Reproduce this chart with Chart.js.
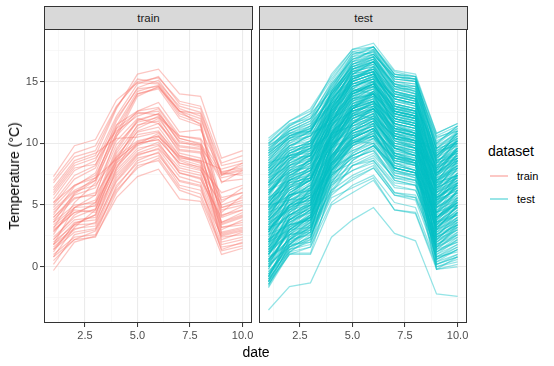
<!DOCTYPE html>
<html>
<head>
<meta charset="utf-8">
<script src="https://cdn.jsdelivr.net/npm/chart.js@4.4.1/dist/chart.umd.min.js"></script>
<style>
  body { margin: 0; background: #fff; font-family: "Liberation Sans", Arial, sans-serif; }
  #wrap { position: relative; width: 554px; height: 366px; overflow: hidden; background: #fff; }
  canvas { position: absolute; }
  .strip { position: absolute; top: 6px; height: 24px; background: #D9D9D9; border: 1px solid #333;
    box-sizing: border-box; font-size: 11.5px; color: #1A1A1A; text-align: center; line-height: 22px; }
  .lbl { position: absolute; white-space: nowrap; color: #000; }
  .key { position: absolute; left: 490px; width: 18px; height: 1.5px; }
</style>
</head>
<body>
<div id="wrap">
  <div class="strip" style="left:44px;width:209px">train</div>
  <div class="strip" style="left:259px;width:209px">test</div>
  <canvas id="cTrain" width="256" height="342" style="left:0;top:24px"></canvas>
  <canvas id="cTest" width="220" height="342" style="left:251px;top:24px"></canvas>
  <div class="lbl" style="left:14px;top:176px;font-size:14px;transform:translate(-50%,-50%) rotate(-90deg)">Temperature (°C)</div>
  <div class="lbl" style="left:256px;top:352px;font-size:14px;transform:translate(-50%,-50%)">date</div>
  <div class="lbl" style="left:488px;top:151px;font-size:14px;transform:translateY(-50%)">dataset</div>
  <div class="key" style="top:175px;background:rgba(248,118,109,0.4)"></div>
  <div class="lbl" style="left:517px;top:176px;font-size:11px;transform:translateY(-50%)">train</div>
  <div class="key" style="top:198px;background:rgba(0,191,196,0.4)"></div>
  <div class="lbl" style="left:517px;top:199px;font-size:11px;transform:translateY(-50%)">test</div>
</div>
<script>
// x positions (date index) and tick setup
const dates = [1, 2, 3, 4, 5, 6, 7, 8, 9, 10];
const xTicks = [2.5, 5, 7.5, 10];
const xMinor = [1.25, 3.75, 6.25, 8.75];
const yTicks = [0, 5, 10, 15];
const yMinor = [-2.5, 2.5, 7.5, 12.5, 17.5];

// one row per station, values at dates 1..10
const trainSeries = [
  [6.2, 8.4, 9.0, 12.8, 15.6, 16.0, 14.0, 13.8, 8.8, 9.4],
  [5.5, 7.8, 8.6, 12.2, 14.8, 15.4, 13.2, 12.8, 7.6, 8.2],
  [4.2, 6.5, 7.6, 11.8, 14.5, 15.1, 12.8, 12.2, 6.8, 7.8],
  [7.3, 9.8, 10.3, 13.5, 14.9, 14.8, 12.6, 12.0, 7.5, 7.9],
  [3.1, 5.9, 7.0, 11.4, 14.2, 14.7, 12.4, 11.8, 5.2, 6.4],
  [2.6, 5.2, 6.8, 10.8, 14.0, 14.5, 12.6, 11.5, 4.4, 5.8],
  [6.8, 8.9, 9.4, 12.9, 15.2, 14.9, 13.0, 12.5, 8.2, 8.6],
  [1.8, 4.8, 5.8, 10.5, 13.8, 14.6, 12.2, 11.6, 3.5, 4.1],
  [7.0, 9.2, 9.8, 13.0, 15.0, 15.3, 13.4, 13.0, 8.4, 9.0],
  [5.2, 7.4, 8.2, 12.0, 14.4, 14.6, 12.6, 12.4, 7.4, 8.4],
  [3.6, 6.0, 7.2, 11.2, 14.0, 14.4, 12.0, 11.4, 4.8, 5.4],
  [5.0, 7.1, 8.0, 11.5, 12.6, 13.3, 10.9, 11.1, 7.7, 8.0],
  [4.6, 6.2, 7.0, 10.6, 12.4, 12.6, 10.0, 9.9, 6.9, 7.1],
  [3.4, 4.8, 5.4, 9.6, 11.9, 12.4, 10.2, 9.8, 4.8, 5.2],
  [2.9, 4.4, 5.0, 9.2, 11.4, 12.2, 9.5, 9.3, 3.6, 4.4],
  [6.0, 8.2, 8.8, 11.0, 12.2, 12.8, 10.4, 10.0, 7.4, 7.8],
  [1.2, 3.5, 4.2, 8.8, 11.2, 12.0, 9.8, 9.6, 2.7, 3.1],
  [2.4, 4.0, 4.7, 8.6, 11.5, 11.8, 9.2, 8.8, 2.2, 2.8],
  [4.0, 5.8, 6.4, 10.2, 12.0, 11.6, 9.7, 9.5, 5.6, 6.0],
  [0.8, 3.2, 4.6, 9.0, 10.9, 11.3, 9.0, 8.5, 2.0, 2.4],
  [3.8, 5.5, 6.0, 9.9, 11.7, 12.1, 10.6, 10.3, 4.1, 4.9],
  [5.8, 8.0, 8.3, 11.2, 12.5, 12.3, 10.1, 9.7, 7.2, 7.6],
  [1.6, 3.0, 3.6, 8.0, 10.7, 11.0, 8.7, 8.2, 3.0, 3.8],
  [4.8, 6.6, 7.4, 10.8, 12.6, 12.9, 10.6, 10.4, 7.6, 7.4],
  [2.2, 4.2, 5.2, 9.4, 11.8, 12.4, 10.4, 9.9, 4.2, 4.6],
  [1.4, 3.4, 4.2, 8.4, 11.0, 11.6, 9.4, 9.2, 3.2, 3.4],
  [2.8, 4.8, 4.9, 8.4, 9.9, 10.8, 8.6, 8.0, 3.4, 4.0],
  [1.0, 2.4, 2.6, 6.6, 8.4, 9.0, 7.0, 6.6, 1.8, 2.2],
  [-0.3, 2.0, 2.5, 5.6, 7.3, 7.9, 5.5, 5.3, 1.0, 1.5],
  [3.6, 5.0, 5.2, 8.2, 9.8, 10.5, 8.9, 8.4, 4.6, 5.0],
  [2.0, 3.4, 3.5, 7.0, 9.0, 9.6, 7.8, 7.4, 3.2, 3.6],
  [1.4, 2.8, 3.1, 6.9, 8.8, 9.2, 6.6, 6.2, 2.5, 2.9],
  [4.4, 6.1, 6.6, 8.9, 10.2, 10.6, 8.2, 7.8, 5.0, 5.6],
  [0.5, 2.2, 2.9, 6.2, 8.0, 8.8, 6.4, 5.9, 1.6, 1.9],
  [3.2, 4.6, 4.4, 7.6, 9.4, 10.1, 7.6, 7.1, 4.0, 4.6],
  [2.2, 3.8, 4.0, 7.8, 9.6, 9.9, 8.0, 7.6, 2.8, 3.2],
  [5.2, 6.6, 7.2, 8.7, 10.0, 10.3, 8.4, 8.1, 6.0, 6.6],
  [1.8, 3.1, 3.3, 7.2, 9.1, 9.5, 7.3, 6.8, 2.4, 2.6],
  [6.4, 8.6, 9.2, 10.4, 10.5, 10.9, 9.0, 8.6, 7.9, 8.4],
  [0.2, 2.6, 3.0, 6.4, 8.6, 9.3, 6.9, 6.5, 1.3, 1.7],
  [3.0, 4.4, 4.6, 8.0, 10.0, 10.3, 8.4, 7.9, 3.6, 4.2],
  [0.8, 2.2, 2.4, 6.0, 8.2, 8.6, 6.2, 5.6, 1.4, 2.0],
  [4.0, 5.6, 5.8, 8.6, 10.1, 10.6, 8.8, 8.6, 5.4, 6.0],
  [1.8, 3.6, 3.8, 7.4, 9.2, 9.8, 7.6, 7.2, 2.6, 3.0]
];

const testSeries = [
  [-3.5, -1.6, -1.3, 2.4, 3.8, 4.8, 2.7, 2.1, -2.2, -2.4],
  [10.2, 11.8, 12.8, 15.4, 17.6, 18.1, 15.9, 15.6, 10.8, 11.6],
  [9.6, 11.2, 12.0, 15.0, 17.4, 17.2, 15.4, 15.2, 10.2, 11.0],
  [8.8, 10.8, 11.6, 14.6, 16.8, 17.5, 15.0, 14.8, 9.6, 10.6],
  [9.9, 11.5, 12.4, 14.2, 16.2, 16.8, 14.8, 14.2, 9.9, 11.2],
  [8.2, 10.2, 10.9, 14.0, 16.4, 17.0, 14.6, 14.0, 9.2, 10.2],
  [7.6, 9.8, 10.4, 13.8, 16.0, 16.6, 14.2, 13.8, 8.8, 9.8],
  [9.2, 10.6, 11.0, 13.4, 15.8, 16.2, 14.4, 14.4, 9.4, 10.4],
  [7.0, 9.2, 10.0, 13.2, 15.6, 16.4, 13.8, 13.4, 8.4, 9.2],
  [6.4, 8.6, 9.6, 13.0, 15.4, 16.0, 13.4, 13.0, 7.8, 8.6],
  [8.0, 9.4, 9.8, 12.8, 15.0, 15.6, 13.6, 13.2, 8.6, 9.6],
  [5.8, 8.0, 9.0, 12.6, 15.2, 15.8, 13.0, 12.6, 7.2, 8.0],
  [6.9, 8.4, 9.2, 12.4, 14.8, 15.4, 13.2, 12.8, 8.0, 9.0],
  [5.2, 7.4, 8.4, 12.2, 14.6, 15.2, 12.8, 12.4, 6.6, 7.4],
  [7.4, 8.8, 9.4, 12.0, 14.4, 15.0, 12.4, 12.0, 7.4, 8.4],
  [4.6, 7.0, 8.0, 11.8, 14.2, 15.0, 12.6, 12.2, 6.0, 6.8],
  [6.0, 7.8, 8.6, 11.6, 14.0, 14.8, 12.2, 11.8, 7.0, 7.8],
  [4.0, 6.6, 7.4, 11.4, 13.8, 14.6, 12.0, 11.6, 5.4, 6.2],
  [5.5, 7.2, 8.0, 11.2, 13.6, 14.4, 11.8, 11.4, 6.4, 7.2],
  [3.4, 6.0, 7.0, 11.0, 13.4, 14.2, 11.6, 11.2, 4.8, 5.6],
  [4.9, 6.8, 7.6, 10.8, 13.2, 14.0, 11.4, 11.0, 5.8, 6.6],
  [2.8, 5.4, 6.4, 10.6, 13.0, 13.8, 11.2, 11.0, 4.2, 5.0],
  [4.3, 6.2, 7.2, 10.4, 12.8, 13.6, 11.0, 10.6, 5.2, 6.0],
  [2.2, 4.8, 5.8, 10.2, 12.6, 13.4, 10.8, 10.6, 3.6, 4.4],
  [3.8, 5.6, 6.6, 10.0, 12.4, 13.2, 10.6, 10.2, 4.6, 5.4],
  [1.6, 4.2, 5.2, 9.8, 12.2, 13.0, 10.4, 10.2, 3.0, 3.8],
  [3.0, 5.0, 6.0, 9.6, 12.0, 12.8, 10.2, 9.8, 4.0, 4.8],
  [1.0, 3.6, 4.6, 9.4, 11.8, 12.6, 10.0, 9.8, 2.4, 3.2],
  [2.4, 4.4, 5.4, 9.2, 11.6, 12.4, 9.8, 9.4, 3.4, 4.2],
  [0.4, 3.0, 4.0, 9.0, 11.4, 12.2, 9.6, 9.4, 1.8, 2.6],
  [1.8, 3.8, 4.8, 8.8, 11.2, 12.0, 9.4, 9.0, 2.8, 3.6],
  [-0.2, 2.4, 3.4, 8.6, 11.0, 11.8, 9.2, 9.0, 1.2, 2.0],
  [1.2, 3.2, 4.2, 8.4, 10.8, 11.6, 9.0, 8.6, 2.2, 3.0],
  [-0.8, 1.8, 2.8, 8.2, 10.6, 11.4, 8.8, 8.6, 0.6, 1.4],
  [0.6, 2.6, 3.6, 8.0, 10.4, 11.2, 8.6, 8.2, 1.6, 2.4],
  [-1.4, 1.2, 2.2, 7.8, 10.2, 11.0, 8.4, 8.2, 0.2, 0.8],
  [0.0, 2.0, 3.0, 7.6, 10.0, 10.8, 8.2, 7.8, 1.0, 1.8],
  [-1.7, 1.1, 1.1, 6.4, 8.6, 9.6, 7.0, 6.6, -0.2, 0.0],
  [-1.0, 1.4, 2.0, 7.0, 9.4, 10.2, 7.6, 7.2, 0.4, 1.0],
  [-0.4, 1.6, 2.4, 7.2, 9.6, 10.4, 7.8, 7.4, 0.8, 1.2],
  [8.6, 10.0, 10.6, 12.0, 13.0, 13.6, 11.8, 11.4, 8.2, 9.6],
  [7.8, 9.0, 9.2, 11.0, 12.2, 12.8, 11.0, 10.6, 7.6, 8.8],
  [9.4, 10.4, 10.8, 11.6, 12.6, 13.0, 11.2, 10.8, 8.9, 10.8],
  [6.6, 7.6, 8.2, 10.0, 11.0, 11.6, 9.6, 9.2, 6.8, 8.2],
  [7.2, 8.2, 8.8, 10.4, 11.6, 12.0, 10.2, 9.8, 7.4, 9.0],
  [5.6, 6.4, 7.0, 9.0, 10.0, 10.6, 8.6, 8.4, 6.0, 7.4],
  [8.4, 9.0, 9.6, 10.8, 11.4, 11.8, 9.8, 9.6, 8.0, 10.0],
  [6.2, 7.0, 7.8, 9.6, 10.6, 11.2, 9.2, 8.8, 6.6, 7.8],
  [4.8, 5.8, 6.2, 8.4, 9.4, 10.0, 8.0, 7.6, 5.6, 6.8],
  [5.0, 5.4, 5.6, 7.6, 8.4, 9.2, 7.2, 7.0, 4.8, 6.0],
  [3.6, 4.6, 5.0, 7.4, 8.8, 9.4, 7.4, 7.0, 4.4, 5.2],
  [4.4, 5.2, 5.8, 8.0, 9.0, 9.8, 7.6, 7.4, 5.0, 6.4],
  [2.6, 3.4, 3.8, 6.8, 7.8, 8.6, 6.4, 6.2, 2.6, 3.8],
  [1.4, 2.6, 2.8, 6.0, 7.0, 8.0, 5.8, 5.6, 1.4, 2.0],
  [0.8, 1.8, 2.0, 5.6, 6.4, 7.2, 4.6, 4.4, 0.0, 0.6],
  [-1.2, 1.0, 1.0, 5.0, 6.0, 7.0, 4.6, 4.3, -0.2, 0.2],
  [2.0, 3.0, 3.2, 6.2, 7.4, 8.2, 6.0, 5.8, 2.0, 3.0],
  [3.2, 3.8, 4.4, 7.0, 8.2, 8.8, 6.8, 6.6, 3.2, 4.6],
  [2.0, 4.6, 6.2, 11.6, 15.0, 16.2, 13.6, 13.2, 5.6, 6.4],
  [3.2, 5.8, 7.6, 12.8, 16.2, 17.0, 14.6, 14.2, 6.8, 7.4],
  [1.0, 3.8, 5.2, 10.8, 14.4, 15.6, 13.2, 12.8, 4.4, 5.0],
  [4.4, 7.0, 8.8, 13.6, 16.6, 17.6, 15.2, 15.0, 7.6, 8.4],
  [0.2, 3.0, 4.4, 10.0, 13.6, 14.8, 12.6, 12.2, 3.6, 4.2],
  [5.6, 8.2, 9.4, 14.2, 17.0, 17.8, 15.4, 15.2, 8.6, 9.4],
  [-0.6, 2.2, 3.6, 9.4, 12.8, 14.2, 12.0, 11.6, 2.6, 3.4],
  [2.6, 5.0, 6.8, 12.0, 15.6, 16.6, 14.0, 13.6, 6.2, 7.0],
  [6.8, 8.6, 9.6, 13.4, 15.8, 16.2, 13.0, 12.4, 4.0, 5.4],
  [5.4, 7.6, 8.6, 12.6, 15.0, 15.6, 12.2, 11.6, 2.4, 3.4],
  [4.2, 6.4, 7.6, 11.8, 14.2, 14.8, 11.4, 10.8, 1.2, 2.2],
  [3.0, 5.2, 6.4, 11.0, 13.4, 14.0, 10.6, 10.0, 0.6, 1.4],
  [7.4, 9.4, 10.2, 13.0, 15.2, 15.8, 12.6, 12.2, 3.0, 4.0],
  [1.6, 3.2, 4.0, 8.8, 11.6, 12.4, 9.2, 8.6, 5.4, 7.0],
  [0.6, 2.2, 3.2, 8.0, 10.6, 11.6, 8.4, 8.0, 4.4, 6.2],
  [2.8, 4.2, 5.0, 9.6, 12.4, 13.2, 10.4, 9.6, 6.4, 8.2],
  [-0.4, 1.4, 2.6, 7.4, 10.0, 11.0, 8.0, 7.6, 3.4, 5.4],
  [3.8, 5.4, 6.0, 10.4, 13.0, 14.0, 11.6, 10.8, 7.4, 9.6],
  [8.0, 9.6, 10.0, 12.2, 14.6, 15.2, 13.8, 13.6, 9.0, 10.6],
  [9.0, 10.4, 11.2, 13.8, 16.4, 16.8, 14.6, 14.6, 10.0, 11.4],
  [10.0, 11.4, 12.2, 14.8, 16.8, 17.2, 15.2, 15.0, 10.5, 11.0],
  [6.2, 8.0, 8.4, 11.2, 12.8, 13.4, 11.6, 11.2, 6.2, 7.6],
  [-1.6, 1.4, 1.8, 6.8, 9.2, 10.0, 7.4, 7.0, 0.0, 0.4],
  [-1.2, 1.6, 2.2, 7.4, 9.8, 10.6, 8.0, 7.6, 0.6, 1.6],
  [-0.8, 2.0, 2.8, 8.0, 10.4, 11.2, 8.6, 8.2, 1.2, 2.4],
  [1.4, 3.4, 4.0, 8.2, 10.2, 10.6, 8.2, 7.8, 1.8, 2.8],
  [9.8, 10.8, 11.4, 13.2, 15.0, 15.6, 13.6, 13.0, 9.6, 10.0],
  [4.8, 6.8, 7.2, 9.8, 11.4, 12.2, 10.4, 10.0, 5.2, 6.4],
  [3.4, 5.0, 5.4, 8.4, 10.0, 10.6, 8.8, 8.4, 3.8, 5.2],
  [2.2, 3.6, 4.6, 7.8, 9.0, 9.8, 7.8, 7.4, 2.6, 4.0],
  [9.0, 11.0, 11.8, 14.4, 16.6, 17.0, 14.8, 14.4, 8.4, 9.0],
  [8.4, 10.4, 11.4, 14.8, 17.2, 17.6, 15.6, 15.4, 9.8, 10.8],
  [7.2, 9.6, 10.8, 14.2, 16.8, 17.4, 15.0, 14.6, 9.0, 10.0],
  [6.6, 9.0, 10.2, 13.6, 16.2, 16.8, 14.4, 14.0, 8.2, 9.4],
  [5.0, 7.8, 9.2, 13.2, 16.0, 16.6, 14.0, 13.6, 7.0, 8.8],
  [3.6, 6.4, 8.2, 12.6, 15.4, 16.0, 13.6, 13.2, 5.8, 7.2],
  [2.4, 5.6, 7.2, 12.2, 15.0, 15.6, 13.2, 12.8, 5.0, 6.6],
  [1.2, 4.4, 6.0, 11.4, 14.6, 15.2, 12.8, 12.4, 4.0, 5.6],
  [0.0, 3.4, 5.0, 10.6, 14.0, 14.8, 12.4, 12.0, 3.2, 4.6],
  [-1.0, 2.6, 4.2, 10.0, 13.2, 14.2, 11.8, 11.4, 2.2, 3.6],
  [-1.5, 1.8, 3.4, 9.2, 12.4, 13.4, 11.0, 10.6, 1.4, 2.6],
  [10.0, 11.6, 12.0, 14.0, 15.8, 16.4, 14.2, 13.8, 9.2, 10.0],
  [9.4, 11.0, 11.6, 13.6, 15.2, 15.8, 13.8, 13.4, 8.8, 10.4],
  [8.6, 10.6, 11.2, 13.0, 14.6, 15.2, 13.4, 13.2, 8.4, 10.2],
  [7.8, 9.8, 10.6, 12.6, 14.2, 14.8, 12.8, 12.6, 7.8, 9.6],
  [6.8, 9.2, 10.0, 12.4, 13.8, 14.4, 12.4, 12.0, 7.2, 9.2],
  [5.8, 8.4, 9.2, 11.8, 13.4, 14.0, 12.0, 11.6, 6.6, 8.6],
  [4.8, 7.6, 8.6, 11.4, 13.0, 13.6, 11.6, 11.2, 6.0, 8.0],
  [3.8, 6.8, 7.8, 10.8, 12.6, 13.2, 11.2, 10.8, 5.4, 7.4],
  [2.8, 6.0, 7.0, 10.2, 12.0, 12.8, 10.8, 10.4, 4.8, 6.8],
  [1.8, 5.0, 6.2, 9.6, 11.6, 12.4, 10.4, 10.0, 4.2, 6.2],
  [0.8, 4.0, 5.4, 9.0, 11.0, 11.8, 9.8, 9.4, 3.6, 5.6],
  [-0.2, 3.2, 4.6, 8.4, 10.4, 11.2, 9.2, 8.8, 3.0, 5.0],
  [-1.2, 2.2, 3.8, 7.8, 9.8, 10.6, 8.6, 8.2, 2.4, 4.4],
  [9.6, 10.8, 11.0, 13.8, 16.0, 16.4, 13.2, 12.6, 6.4, 7.2],
  [8.4, 9.8, 10.2, 13.2, 15.4, 15.8, 12.6, 12.0, 5.6, 6.6],
  [7.6, 9.0, 9.6, 12.6, 14.8, 15.2, 12.0, 11.4, 4.8, 6.0],
  [6.4, 8.0, 8.8, 12.0, 14.2, 14.6, 11.4, 10.8, 4.0, 5.2],
  [5.2, 7.0, 7.8, 11.4, 13.6, 14.0, 10.8, 10.2, 3.2, 4.4],
  [4.0, 6.0, 7.0, 10.8, 13.0, 13.4, 10.2, 9.6, 2.6, 3.8],
  [2.8, 5.0, 6.0, 10.2, 12.4, 12.8, 9.6, 9.0, 1.8, 3.0],
  [1.6, 3.8, 5.0, 9.6, 11.8, 12.2, 9.0, 8.4, 1.0, 2.2],
  [0.4, 2.8, 4.0, 9.0, 11.2, 11.6, 8.4, 7.8, 0.4, 1.4],
  [-0.6, 1.8, 3.0, 8.4, 10.6, 11.0, 7.8, 7.2, -0.2, 0.8],
  [7.0, 8.8, 9.0, 11.4, 13.4, 14.6, 13.0, 12.6, 8.6, 11.0],
  [6.0, 7.8, 8.0, 10.8, 12.8, 14.0, 12.4, 12.0, 8.0, 10.4],
  [5.0, 6.8, 7.2, 10.2, 12.2, 13.4, 11.8, 11.4, 7.4, 9.8],
  [4.0, 5.8, 6.4, 9.6, 11.6, 12.8, 11.2, 10.8, 6.8, 9.2],
  [3.0, 4.8, 5.6, 9.0, 11.0, 12.2, 10.6, 10.2, 6.2, 8.6],
  [2.0, 3.8, 4.8, 8.4, 10.4, 11.6, 10.0, 9.6, 5.6, 8.0],
  [1.0, 2.8, 4.0, 7.8, 9.8, 11.0, 9.4, 9.0, 5.0, 7.4],
  [0.0, 1.8, 3.2, 7.2, 9.2, 10.4, 8.8, 8.4, 4.4, 6.8],
  [-1.0, 1.2, 2.4, 6.6, 8.6, 9.8, 8.2, 7.8, 3.8, 6.2],
  [8.2, 9.6, 10.0, 12.8, 15.0, 15.6, 13.2, 12.8, 7.0, 8.0],
  [7.4, 8.6, 9.0, 11.8, 14.0, 14.6, 12.2, 11.8, 6.4, 7.4],
  [6.2, 7.4, 7.8, 10.6, 12.8, 13.4, 11.0, 10.6, 5.6, 6.6],
  [5.4, 6.6, 7.0, 9.8, 11.8, 12.4, 10.0, 9.6, 4.8, 5.8],
  [4.6, 5.8, 6.2, 9.0, 10.8, 11.4, 9.0, 8.6, 4.0, 5.0],
  [3.8, 5.0, 5.4, 8.2, 9.8, 10.4, 8.0, 7.6, 3.2, 4.2],
  [3.0, 4.2, 4.6, 7.4, 8.8, 9.4, 7.0, 6.6, 2.4, 3.4],
  [2.2, 3.4, 3.8, 6.6, 7.8, 8.4, 6.0, 5.6, 1.6, 2.6],
  [0.6, 2.2, 2.6, 5.8, 7.2, 8.0, 5.8, 5.4, 0.8, 1.6],
  [-0.6, 1.2, 1.6, 5.2, 6.6, 7.4, 5.2, 4.8, 0.2, 0.8],
  [9.2, 11.2, 12.0, 14.6, 17.0, 17.4, 15.4, 15.0, 10.4, 11.2],
  [8.0, 10.0, 11.0, 14.0, 16.6, 17.2, 15.2, 15.0, 10.0, 11.4],
  [6.0, 8.6, 10.0, 13.4, 16.4, 17.0, 15.0, 14.8, 9.6, 11.0],
  [4.0, 7.2, 8.8, 12.8, 16.0, 16.8, 14.8, 14.4, 9.0, 10.6],
  [2.0, 5.6, 7.6, 12.2, 15.6, 16.6, 14.4, 14.0, 8.4, 10.2],
  [0.4, 4.0, 6.4, 11.6, 15.2, 16.2, 14.0, 13.6, 7.8, 9.6],
  [9.8, 11.0, 11.8, 14.4, 17.2, 17.8, 15.6, 15.2, 9.4, 9.8],
  [7.8, 9.2, 9.8, 12.6, 14.4, 14.0, 12.0, 11.6, 7.6, 8.6],
  [5.6, 7.0, 7.4, 10.4, 12.4, 12.0, 10.0, 9.6, 5.8, 7.0],
  [3.4, 4.8, 5.2, 8.2, 10.2, 10.0, 8.0, 7.6, 4.0, 5.4],
  [1.2, 2.6, 3.0, 6.2, 8.2, 8.6, 6.6, 6.2, 2.2, 3.8],
  [6.6, 8.2, 8.6, 11.4, 14.2, 15.0, 11.2, 10.4, 3.6, 4.8],
  [5.0, 6.4, 7.2, 10.6, 13.2, 13.8, 10.4, 9.8, 2.0, 3.2],
  [3.2, 4.6, 5.6, 9.8, 12.6, 13.2, 9.8, 9.2, 0.8, 1.8],
  [1.4, 3.0, 4.2, 9.2, 12.0, 12.8, 9.2, 8.6, 0.2, 1.0],
  [8.8, 10.2, 10.6, 13.4, 15.6, 16.0, 14.0, 13.8, 8.6, 9.2],
  [7.6, 9.0, 9.4, 12.4, 14.8, 15.4, 13.4, 13.0, 8.0, 8.8],
  [4.6, 6.2, 7.0, 10.6, 12.6, 13.0, 11.0, 10.6, 6.4, 8.4],
  [2.6, 4.2, 5.0, 8.8, 10.8, 11.4, 9.6, 9.2, 5.2, 7.6],
  [0.2, 1.6, 2.4, 6.8, 9.0, 9.8, 8.0, 7.6, 3.0, 5.0],
  [-1.4, 1.0, 1.6, 6.0, 8.2, 9.0, 7.2, 6.8, 1.6, 3.4],
  [10.4, 11.8, 12.6, 15.2, 17.4, 17.8, 15.6, 15.4, 10.6, 11.4],
  [9.4, 11.4, 12.4, 15.6, 17.6, 17.8, 15.8, 15.4, 10.8, 11.6],
  [6.8, 8.8, 9.8, 13.0, 15.4, 15.8, 13.6, 13.2, 9.2, 10.8],
  [5.4, 7.4, 8.2, 11.6, 14.0, 14.6, 12.6, 12.2, 8.4, 10.0],
  [3.6, 5.8, 6.6, 10.4, 12.8, 13.4, 11.6, 11.2, 7.6, 9.4],
  [1.6, 3.6, 4.4, 8.6, 11.2, 12.0, 10.6, 10.2, 7.0, 8.8],
  [8.2, 9.8, 10.6, 13.6, 15.6, 16.0, 13.8, 13.4, 8.0, 9.4],
  [7.2, 8.8, 9.6, 12.8, 14.8, 15.4, 13.0, 12.6, 7.6, 9.0],
  [6.2, 7.8, 8.6, 12.0, 14.2, 14.8, 12.4, 12.0, 7.0, 8.2],
  [5.2, 7.0, 7.8, 11.4, 13.8, 14.4, 12.0, 11.4, 6.2, 7.6],
  [4.2, 6.2, 7.0, 10.8, 13.2, 13.8, 11.4, 10.8, 5.4, 6.8],
  [3.2, 5.4, 6.2, 10.0, 12.6, 13.2, 10.8, 10.2, 4.6, 6.0],
  [2.2, 4.6, 5.6, 9.4, 12.0, 12.6, 10.2, 9.6, 3.8, 5.2],
  [1.2, 3.8, 4.8, 8.8, 11.4, 12.0, 9.6, 9.0, 3.0, 4.4],
  [0.2, 3.0, 4.0, 8.2, 10.8, 11.4, 9.0, 8.4, 2.2, 3.6],
  [-0.8, 2.2, 3.2, 7.6, 10.2, 10.8, 8.4, 7.8, 1.4, 2.8],
  [9.0, 10.4, 11.0, 13.2, 14.8, 15.0, 12.8, 12.4, 8.2, 8.8],
  [6.8, 8.4, 9.0, 11.8, 13.6, 14.2, 12.2, 11.8, 6.8, 7.4],
  [4.4, 6.4, 7.2, 10.4, 12.2, 12.8, 10.8, 10.4, 5.4, 6.2],
  [2.0, 4.2, 5.2, 9.0, 11.0, 11.8, 9.8, 9.4, 3.6, 4.8],
  [0.0, 2.4, 3.6, 7.8, 10.0, 10.8, 8.8, 8.4, 2.0, 3.4],
  [8.6, 10.6, 11.2, 14.2, 16.2, 16.6, 14.6, 14.2, 9.0, 10.2],
  [5.8, 8.2, 9.0, 12.8, 15.2, 15.8, 13.6, 13.2, 7.6, 8.8],
  [3.4, 5.8, 6.8, 11.2, 14.0, 14.8, 12.6, 12.2, 6.0, 7.2],
  [1.0, 3.4, 4.6, 9.8, 12.8, 13.8, 11.6, 11.2, 4.4, 5.6],
  [-1.2, 1.6, 2.8, 8.4, 11.6, 12.8, 10.6, 10.2, 2.8, 4.0],
  [7.8, 9.4, 10.2, 13.4, 15.8, 16.6, 14.8, 14.6, 9.6, 10.8],
  [5.2, 7.2, 8.0, 11.8, 14.4, 15.4, 13.8, 13.4, 8.8, 10.2],
  [2.8, 5.0, 5.8, 10.2, 13.0, 14.2, 12.6, 12.2, 7.8, 9.4],
  [0.6, 2.8, 3.8, 8.6, 11.6, 13.0, 11.6, 11.0, 6.8, 8.6],
  [9.2, 10.6, 11.4, 14.0, 16.0, 16.6, 14.2, 13.6, 7.2, 8.2],
  [6.0, 7.6, 8.4, 11.8, 14.0, 14.8, 12.4, 11.8, 5.2, 6.4],
  [3.0, 4.8, 5.8, 9.8, 12.2, 13.0, 10.6, 10.0, 3.4, 4.8],
  [0.4, 2.2, 3.4, 7.8, 10.4, 11.2, 8.8, 8.2, 1.6, 3.2],
  [7.4, 9.2, 9.8, 12.2, 13.6, 14.0, 11.8, 11.4, 6.0, 7.0],
  [4.6, 6.6, 7.4, 10.6, 12.0, 12.6, 10.4, 10.0, 4.4, 5.8],
  [1.8, 4.0, 5.0, 8.8, 10.4, 11.2, 9.0, 8.6, 2.8, 4.4],
  [8.0, 10.2, 11.0, 14.0, 16.4, 17.2, 15.4, 15.2, 9.4, 10.4],
  [4.8, 7.4, 8.4, 12.4, 15.2, 16.0, 14.2, 13.8, 7.4, 8.6],
  [1.4, 4.4, 5.6, 10.8, 13.8, 15.0, 13.0, 12.6, 5.6, 6.8],
  [-0.8, 2.6, 3.8, 9.6, 12.8, 14.0, 12.0, 11.6, 4.0, 5.2],
  [6.6, 8.2, 9.0, 12.4, 14.6, 15.0, 12.8, 12.2, 6.6, 8.0],
  [3.8, 5.6, 6.6, 10.6, 12.8, 13.4, 11.2, 10.6, 5.0, 6.6],
  [1.0, 3.0, 4.2, 8.6, 11.0, 11.8, 9.6, 9.0, 3.4, 5.0]
];

const TRAIN_COL = 'rgba(248,118,109,0.42)';
const TEST_COL = 'rgba(0,191,196,0.42)';

// ggplot-ish panel frame drawn on top
const frame = {
  id: 'frame',
  afterDraw(chart) {
    const a = chart.chartArea, ctx = chart.ctx;
    ctx.save();
    ctx.strokeStyle = '#333333';
    ctx.lineWidth = 1;
    ctx.strokeRect(Math.round(a.left) + 0.5, Math.round(a.top) + 0.5,
      Math.round(a.right - a.left) - 1, Math.round(a.bottom - a.top) - 1);
    ctx.restore();
  }
};

function gridOpts(majors) {
  const isMajor = v => majors.includes(v);
  return {
    color: c => isMajor(c.tick.value) ? '#EBEBEB' : '#F4F4F4',
    lineWidth: c => isMajor(c.tick.value) ? 1.1 : 0.6,
    tickColor: c => isMajor(c.tick.value) ? '#333333' : 'rgba(0,0,0,0)',
    tickLength: 4,
    tickWidth: 1
  };
}

function makePanel(id, series, color, showY, padLeft) {
  const datasets = series.map(row => ({
    data: row.map((v, i) => ({ x: dates[i], y: v })),
    borderColor: color,
    borderWidth: 1.25,
    pointRadius: 0,
    fill: false,
    tension: 0
  }));
  const tickFont = { family: '"Liberation Sans", Arial, sans-serif', size: 11 };
  const yGrid = gridOpts(yTicks);
  if (!showY) yGrid.drawTicks = false;
  return new Chart(document.getElementById(id), {
    type: 'line',
    data: { datasets },
    options: {
      responsive: false,
      animation: false,
      devicePixelRatio: 1,
      layout: { padding: { top: 5, right: 4, left: padLeft, bottom: 0 } },
      plugins: { legend: { display: false }, tooltip: { enabled: false } },
      scales: {
        x: {
          type: 'linear', min: 0.55, max: 10.45,
          afterBuildTicks: ax => { ax.ticks = [...xMinor, ...xTicks].sort((a, b) => a - b).map(v => ({ value: v })); },
          afterFit: ax => { ax.height = 43; ax.paddingLeft = 0; ax.paddingRight = 0; },
          grid: gridOpts(xTicks),
          border: { display: false },
          ticks: {
            font: tickFont, color: '#4D4D4D', padding: 2, maxRotation: 0, autoSkip: false,
            callback: v => xTicks.includes(v) ? v.toFixed(1) : ''
          }
        },
        y: {
          type: 'linear', min: -4.55, max: 19.25,
          afterBuildTicks: ax => { ax.ticks = [...yMinor, ...yTicks].sort((a, b) => a - b).map(v => ({ value: v })); },
          afterFit: ax => { ax.width = showY ? 44 : 0; ax.paddingTop = 0; ax.paddingBottom = 0; },
          grid: yGrid,
          border: { display: false },
          ticks: {
            display: showY, font: tickFont, color: '#4D4D4D', padding: 2, autoSkip: false,
            callback: v => yTicks.includes(v) ? String(v) : ''
          }
        }
      }
    },
    plugins: [frame]
  });
}

makePanel('cTrain', trainSeries, TRAIN_COL, true, 0);
makePanel('cTest', testSeries, TEST_COL, false, 8);
</script>
</body>
</html>
